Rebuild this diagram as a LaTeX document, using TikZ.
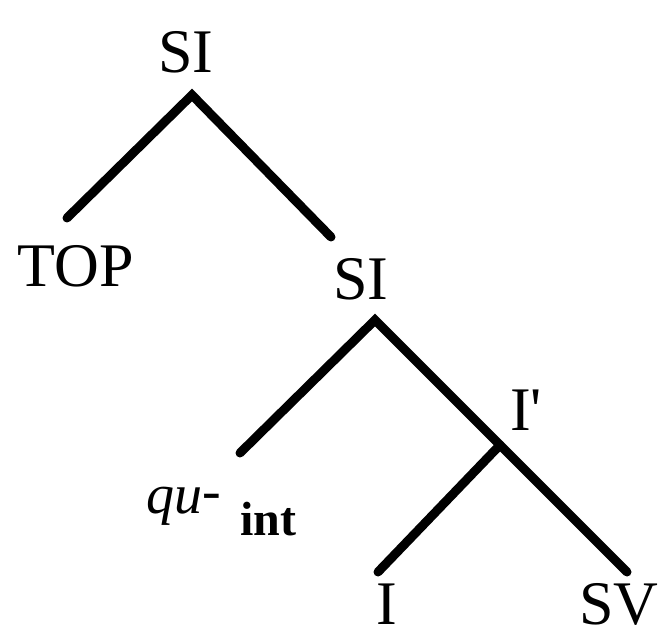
\documentclass[tikz,border=0pt]{standalone}
\usepackage{fontspec}
\setmainfont{Liberation Serif}
\begin{document}
\begin{tikzpicture}[x=1pt,y=-1pt,
  lbl/.style={inner sep=0pt,anchor=base,font=\fontsize{62}{70}\selectfont},
  branch/.style={line width=9pt,line cap=round}]
\useasboundingbox (0,0) rectangle (662,639);
% labels
\node[lbl] (si1) at (186,73) {SI};
\node[lbl] (top) at (76,287) {TOP};
\node[lbl] (si2) at (361,300) {SI};
\node[lbl,anchor=base west] (ibar) at (510,430) {I\textquotesingle};
\node[lbl,anchor=base west,font=\fontsize{56}{60}\selectfont\itshape] (qu) at (146,513) {qu\raisebox{4pt}{-}};
\node[lbl,anchor=base west,font=\fontsize{48}{50}\selectfont\bfseries] (int) at (240,535) {int};
\node[lbl] (i) at (387,624) {I};
\node[lbl] (sv) at (619,624) {SV};
% branch points
\coordinate (a1) at (192,95);
\coordinate (e-top) at (67,218);
\coordinate (e-si2) at (331,237);
\coordinate (a2) at (375,320);
\coordinate (e-qu) at (240,453);
\coordinate (a3) at (500,445);
\coordinate (e-i) at (378,572);
\coordinate (e-sv) at (627,572);
% branches
\draw[branch] (e-top) -- (a1) -- (e-si2);
\draw[branch] (e-qu) -- (a2) -- (a3) -- (e-sv);
\draw[branch] (a3) -- (e-i);
\end{tikzpicture}
\end{document}
